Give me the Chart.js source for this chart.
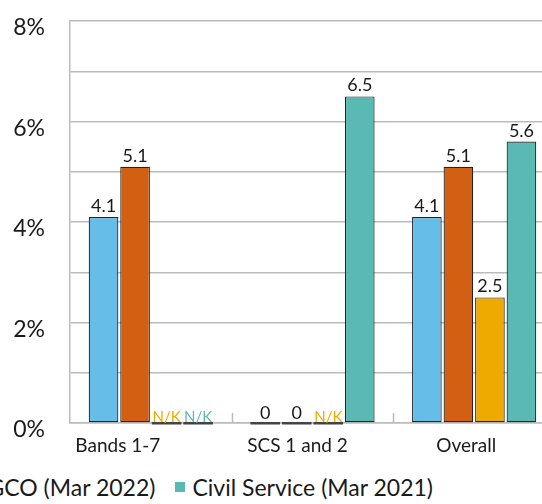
<!DOCTYPE html>
<html>
<head>
<meta charset="utf-8">
<script src="https://cdn.jsdelivr.net/npm/chart.js@4.4.1/dist/chart.umd.min.js"></script>
<style>
  html, body { margin: 0; padding: 0; background: #fff; width: 542px; height: 504px; overflow: hidden; position: relative; }
  #wrap { position: absolute; left: 0; top: 0; width: 560px; height: 470px; }
  #legend { position: absolute; right: 109px; top: 473px; display: flex; align-items: center; white-space: nowrap;
            font-family: Lato, "Noto Sans", sans-serif; font-size: 23px; color: #1a1a1a; }
  #legend .item { display: flex; align-items: center; margin-left: 20px; }
  #legend .box { width: 10px; height: 10px; margin-right: 7px; }
</style>
</head>
<body>
<div id="wrap"><canvas id="rateChart"></canvas></div>
<div id="legend"></div>
<script>
const categories = ["Bands 1-7", "SCS 1 and 2", "Overall"];
const seriesNames = ["GCO (Mar 2021)", "GCO (Mar 2022)", "Wider GCO (Mar 2022)", "Civil Service (Mar 2021)"];
const seriesColours = ["#66bde8", "#d35f12", "#eeaa00", "#5bb9b3"];
// null = not known (shown as N/K)
const gco2021 = [4.1, 0, 4.1];
const gco2022 = [5.1, 0, 5.1];
const widerGco2022 = [null, null, 2.5];
const civilService2021 = [null, 6.5, 5.6];
const yTicks = [0, 2, 4, 6, 8];

const seriesValues = [gco2021, gco2022, widerGco2022, civilService2021];
const labelShift = [-33, -15, -8];
const fontFamily = "Lato, 'Noto Sans', sans-serif";
const textColour = "#1a1a1a";
const gridColour = "#bbbbbb";

// value labels, N/K markers, category names and the short ticks between groups
const annotate = {
  id: "annotate",
  afterDatasetsDraw(chart) {
    const ctx = chart.ctx;
    const yScale = chart.scales.y;
    const xScale = chart.scales.x;
    const base = yScale.getPixelForValue(0);
    const area = chart.chartArea;
    ctx.save();

    const step = (area.right - area.left) / categories.length;
    ctx.strokeStyle = gridColour;
    ctx.lineWidth = 1.5;
    for (let k = 1; k < categories.length; k++) {
      const x = Math.round(area.left + step * k) + 0.5;
      ctx.beginPath();
      ctx.moveTo(x, base - 10);
      ctx.lineTo(x, base);
      ctx.stroke();
    }

    ctx.textAlign = "center";
    ctx.textBaseline = "alphabetic";
    chart.data.datasets.forEach((ds, d) => {
      const meta = chart.getDatasetMeta(d);
      meta.data.forEach((bar, i) => {
        const v = ds.data[i];
        const w = bar.width;
        if (v === null || v === 0) {
          ctx.fillStyle = "#444";
          ctx.fillRect(bar.x - w / 2, base - 1, w, 2.5);
        }
        if (v === null) {
          ctx.font = "15px " + fontFamily;
          ctx.fillStyle = seriesColours[d];
          ctx.fillText("N/K", bar.x, base - 1);
        } else if (v === 0) {
          ctx.font = "18px " + fontFamily;
          ctx.fillStyle = textColour;
          ctx.fillText("0", bar.x, base - 4);
        } else {
          ctx.font = "18px " + fontFamily;
          ctx.fillStyle = textColour;
          ctx.fillText(String(v), bar.x, yScale.getPixelForValue(v) - 5);
        }
      });
    });

    ctx.font = "19px " + fontFamily;
    ctx.fillStyle = textColour;
    categories.forEach((c, i) => {
      ctx.fillText(c, xScale.getPixelForValue(i) + labelShift[i], area.bottom + 29);
    });
    ctx.restore();
  }
};

new Chart(document.getElementById("rateChart"), {
  type: "bar",
  data: {
    labels: categories,
    datasets: seriesNames.map((name, d) => ({
      label: name,
      data: seriesValues[d],
      backgroundColor: seriesColours[d],
      borderColor: "#222",
      borderWidth: 1.2,
      borderSkipped: false,
      barPercentage: 0.94,
      categoryPercentage: 0.78
    }))
  },
  options: {
    responsive: true,
    maintainAspectRatio: false,
    animation: false,
    layout: { padding: { top: 21, right: 5, left: 0, bottom: 0 } },
    plugins: { legend: { display: false }, tooltip: { enabled: false } },
    scales: {
      x: {
        grid: { display: false },
        border: { color: gridColour, width: 1.5 },
        ticks: { display: false },
        afterFit: (s) => { s.height = 47; s.paddingLeft = 0; s.paddingRight = 0; }
      },
      y: {
        min: 0,
        max: 8,
        afterFit: (s) => { s.width = 70; s.paddingTop = 0; s.paddingBottom = 0; },
        border: { color: gridColour, width: 1.5 },
        grid: { color: gridColour, lineWidth: 1.5, drawTicks: false },
        ticks: {
          stepSize: 1,
          padding: 25,
          labelOffset: 7,
          color: textColour,
          font: { family: fontFamily, size: 23 },
          callback: (v) => yTicks.includes(v) ? v + "%" : ""
        }
      }
    }
  },
  plugins: [annotate]
});

const legend = document.getElementById("legend");
seriesNames.forEach((name, d) => {
  const item = document.createElement("span");
  item.className = "item";
  const box = document.createElement("span");
  box.className = "box";
  box.style.background = seriesColours[d];
  item.appendChild(box);
  item.appendChild(document.createTextNode(name));
  legend.appendChild(item);
});
</script>
</body>
</html>
